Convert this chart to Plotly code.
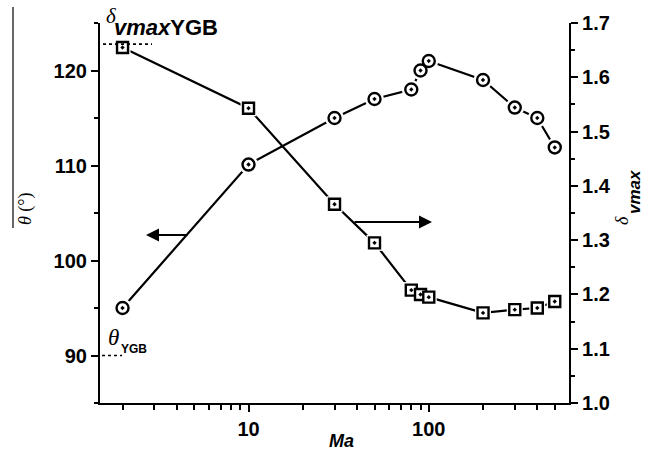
import plotly.graph_objects as go

# Data
ma_theta = [2, 10, 30, 50, 80, 90, 100, 200, 300, 400, 500]
theta = [95.0, 110.1, 115.0, 117.0, 118.0, 120.0, 121.0, 119.0, 116.1, 115.0, 111.9]

ma_delta = [2, 10, 30, 50, 80, 90, 100, 200, 300, 400, 500]
delta = [1.655, 1.543, 1.366, 1.295, 1.208, 1.200, 1.195, 1.166, 1.172, 1.175, 1.187]

theta_ygb = 90.0
delta_ygb = 1.661

x_major = [10, 100]
x_minor = [2, 3, 4, 5, 6, 7, 8, 9, 20, 30, 40, 50, 60, 70, 80, 90, 200, 300, 400, 500]
theta_major = [90, 100, 110, 120]
theta_minor = [85, 95, 105, 115, 125]
delta_major = [1.0, 1.1, 1.2, 1.3, 1.4, 1.5, 1.6, 1.7]
delta_minor = [1.05, 1.15, 1.25, 1.35, 1.45, 1.55, 1.65]

W, H = 651, 453
L, R, T, B = 100, 82, 23, 50
PW, PH = W - L - R, H - T - B

def px(x):
    return (x - L) / PW

def py(y):
    return (H - B - y) / PH

SANS = "Liberation Sans, Arial, sans-serif"
SERIF = "Liberation Serif, Times New Roman, serif"

fig = go.Figure()

fig.add_trace(go.Scatter(x=ma_theta, y=theta, mode="lines",
                         line=dict(color="black", width=2.2), yaxis="y", showlegend=False))
fig.add_trace(go.Scatter(x=ma_theta, y=theta, mode="markers",
                         marker=dict(symbol="circle", size=19, color="white", line=dict(width=0)),
                         yaxis="y", showlegend=False))
fig.add_trace(go.Scatter(x=ma_theta, y=theta, mode="markers",
                         marker=dict(symbol="circle-dot", size=12, color="white",
                                     line=dict(color="black", width=2.4)),
                         yaxis="y", showlegend=False))

fig.add_trace(go.Scatter(x=ma_delta, y=delta, mode="lines",
                         line=dict(color="black", width=2.2), yaxis="y2", showlegend=False))
fig.add_trace(go.Scatter(x=ma_delta, y=delta, mode="markers",
                         marker=dict(symbol="square", size=16, color="white", line=dict(width=0)),
                         yaxis="y2", showlegend=False))
fig.add_trace(go.Scatter(x=ma_delta, y=delta, mode="markers",
                         marker=dict(symbol="square-dot", size=11, color="white",
                                     line=dict(color="black", width=2.4)),
                         yaxis="y2", showlegend=False))

tickfont = dict(family=SANS, size=20, color="black", weight="bold")
xr = [0.176, 2.778]

common = dict(ticks="outside", tickwidth=2, tickcolor="black", showgrid=False, zeroline=False)

fig.update_layout(
    width=W, height=H,
    margin=dict(l=L, r=R, t=T, b=B),
    paper_bgcolor="white", plot_bgcolor="white",
    xaxis=dict(type="log", range=xr, tickmode="array", tickvals=x_major,
               ticktext=["10", "100"], ticklen=7,
               showline=True, linecolor="black", linewidth=2.2,
               tickfont=tickfont, **common,
               minor=dict(tickmode="array", tickvals=x_minor, ticks="outside", ticklen=5,
                          tickwidth=2, tickcolor="black")),
    yaxis=dict(range=[85, 125], tickmode="array", tickvals=theta_major, ticklen=7,
               showline=True, linecolor="black", linewidth=2.2,
               tickfont=tickfont, **common,
               minor=dict(tickmode="array", tickvals=theta_minor, ticks="outside", ticklen=4,
                          tickwidth=2, tickcolor="black")),
    yaxis2=dict(range=[1.0, 1.7], overlaying="y", side="right", anchor="x",
                tickmode="array", tickvals=delta_major, tickformat=".1f", ticklen=7,
                showline=True, linecolor="black", linewidth=2.2,
                tickfont=tickfont, **common,
                minor=dict(tickmode="array", tickvals=delta_minor, ticks="outside", ticklen=4,
                           tickwidth=2, tickcolor="black")),
)

fig.add_shape(type="line", xref="paper", yref="y2", x0=px(103), x1=px(152),
              y0=delta_ygb, y1=delta_ygb, line=dict(color="black", width=1.6, dash="dot"))
fig.add_shape(type="line", xref="paper", yref="y", x0=px(102), x1=px(122),
              y0=theta_ygb, y1=theta_ygb, line=dict(color="black", width=1.6, dash="dot"))
fig.add_shape(type="line", xref="paper", yref="paper", x0=px(13), x1=px(13),
              y0=py(7), y1=py(228), line=dict(color="black", width=1.2))

def label(text, x, y, family, size, angle=0):
    return dict(text=text, x=px(x), y=py(y), xref="paper", yref="paper",
                xanchor="center", yanchor="middle", showarrow=False, textangle=angle,
                font=dict(family=family, size=size, color="black"))

ann = []
ann.append(label("<b><i>Ma</i></b>", 341, 441, SANS, 18))
ann.append(label("<i>θ</i> (°)", 25, 209, SERIF, 18, -90))
ann.append(label("<i>δ</i>", 622, 221, SERIF, 18, -90))
ann.append(label("<b><i>vmax</i></b>", 634, 192, SANS, 17, -90))
ann.append(label("<i>δ</i>", 111, 16, SERIF, 21))
ann.append(label("<b><i>vmax</i>YGB</b>", 166, 27, SANS, 22))
ann.append(label("<i>θ</i>", 113, 337, SERIF, 23))
ann.append(label("<b>YGB</b>", 134, 349, SANS, 12))
ann.append(dict(text="", x=px(146), y=py(235), xref="paper", yref="paper",
                showarrow=True, ax=43, ay=0, arrowhead=2, arrowsize=1.3, arrowwidth=2,
                arrowcolor="black"))
ann.append(dict(text="", x=px(432), y=py(222), xref="paper", yref="paper",
                showarrow=True, ax=-79, ay=0, arrowhead=2, arrowsize=1.3, arrowwidth=2,
                arrowcolor="black"))

fig.update_layout(annotations=ann)

fig.write_html("out.html")
